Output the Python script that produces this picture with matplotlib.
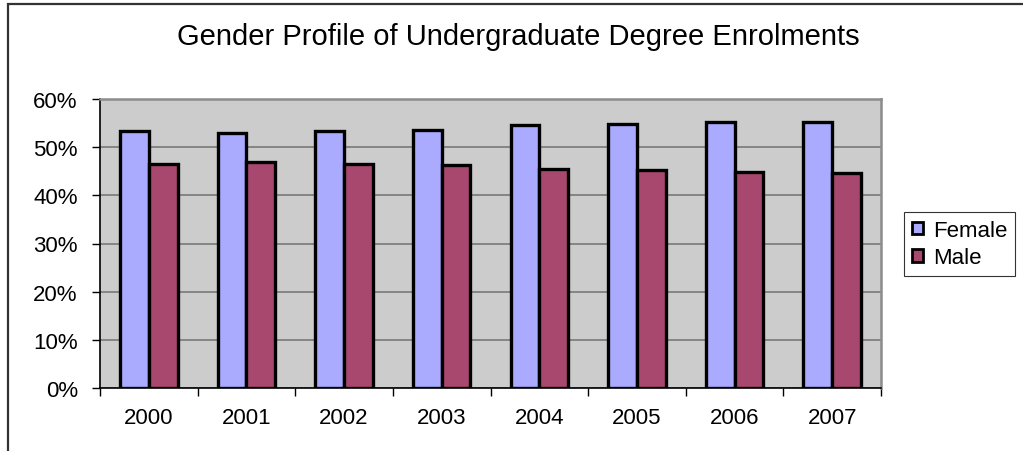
import matplotlib
matplotlib.use("Agg")
import matplotlib.pyplot as plt
from matplotlib.patches import Rectangle
from matplotlib.ticker import FuncFormatter
import numpy as np

plt.rcParams['font.family'] = ['Liberation Sans', 'DejaVu Sans']

# Share of undergraduate degree enrolments by gender (%)
years = ["2000", "2001", "2002", "2003", "2004", "2005", "2006", "2007"]
female = [53.3, 53.0, 53.4, 53.6, 54.5, 54.8, 55.2, 55.3]
male = [46.6, 46.9, 46.5, 46.3, 45.5, 45.2, 44.9, 44.7]
title = "Gender Profile of Undergraduate Degree Enrolments"

W, H = 1023, 452
fig = plt.figure(figsize=(W / 100, H / 100), dpi=100)
fig.patch.set_facecolor("white")

# Chart frame (runs off the right and bottom edges)
fig.patches.append(Rectangle((8 / W, -0.1), 1.2, 1 - 5 / H + 0.1,
                             transform=fig.transFigure, fill=False,
                             edgecolor="#333333", linewidth=1.6))

ax = fig.add_axes([100 / W, 1 - 389 / H, (881 - 100) / W, (389 - 100) / H])
ax.set_facecolor("#CCCCCC")

x = np.arange(len(years))
bw = 0.295
ax.bar(x - 0.147, female, bw, color="#AAAAFF", edgecolor="black",
       linewidth=2.4, label="Female", zorder=3)
ax.bar(x + 0.147, male, bw, color="#A8486F", edgecolor="black",
       linewidth=2.4, label="Male", zorder=3)

ax.set_xlim(-0.5, len(years) - 0.5)
ax.set_ylim(0, 60)
ax.set_yticks(np.arange(0, 61, 10))
ax.yaxis.set_major_formatter(FuncFormatter(lambda v, p: f"{int(v)}%"))
ax.yaxis.grid(True, color="#7F7F7F", linewidth=1.3, zorder=1)
ax.set_axisbelow(True)

ax.set_xticks(x)
ax.set_xticklabels(years)
ax.set_xticks(np.arange(-0.5, len(years), 1.0), minor=True)
ax.tick_params(axis="x", which="major", length=0, pad=14, labelsize=16)
ax.tick_params(axis="x", which="minor", length=6, width=1, color="black")
ax.tick_params(axis="y", length=6, width=1, color="black", pad=10,
               labelsize=16)

for side in ("top", "right"):
    ax.spines[side].set_color("#8C8C8C")
    ax.spines[side].set_linewidth(1.8)
for side in ("left", "bottom"):
    ax.spines[side].set_color("black")
    ax.spines[side].set_linewidth(1.2)

fig.text(518 / W, 1 - 37 / H, title, ha="center", va="center", fontsize=21)

leg = fig.legend(loc="upper left", bbox_to_anchor=(904 / W, 1 - 213 / H),
                 frameon=True, fontsize=16, handlelength=0.5,
                 handleheight=0.5, handletextpad=0.45, borderpad=0.35,
                 labelspacing=0.3, borderaxespad=0, fancybox=False)
leg.get_frame().set_edgecolor("black")
leg.get_frame().set_linewidth(0.8)
for h in leg.legend_handles:
    h.set_linewidth(2.0)

fig.savefig("out.png", dpi=100)
